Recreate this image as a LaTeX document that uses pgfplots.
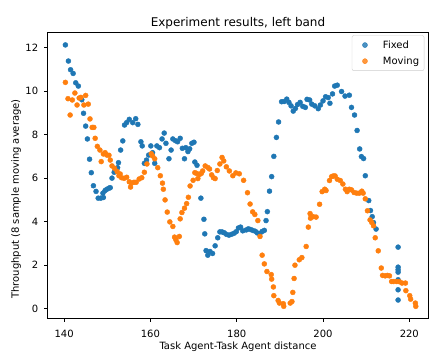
\documentclass[border=0pt]{standalone}
\usepackage{fontspec}
\setmainfont{DejaVu Sans}
\usepackage{pgfplots}
\pgfplotsset{compat=1.18}
\definecolor{cA}{HTML}{1F77B4}
\definecolor{cB}{HTML}{FF7F0E}
\begin{document}
\begin{tikzpicture}
\begin{axis}[
  at={(0,0)}, anchor=south west,
  scale only axis, width=380.6pt, height=286pt,
  xmin=136.2, xmax=224.4, ymin=-0.44, ymax=12.7,
  xtick={140,160,180,200,220}, ytick={0,2,4,6,8,10,12},
  tick pos=left, tick align=outside, major tick length=3.5pt,
  every tick/.style={black, line width=0.8pt},
  axis line style={black, line width=0.8pt},
  /pgf/number format/assume math mode=true,
  ticklabel style={font=\fontsize{10}{12}\selectfont},
  xticklabel style={yshift=-4.5pt},
  yticklabel style={xshift=-2.5pt},
  title={Experiment results, left band},
  title style={at={(0.5,1)}, anchor=base, font=\fontsize{12}{14}\selectfont},
  xlabel={Task Agent-Task Agent distance},
  xlabel style={at={(axis description cs:0.5,0)}, anchor=base, yshift=-31.5pt, font=\fontsize{10}{12}\selectfont},
  ylabel={Throughput (8 sample moving average)},
  ylabel style={at={(axis description cs:-0.0833,0.417)}, anchor=center, font=\fontsize{10}{12}\selectfont},
  legend style={at={(rel axis cs:1,1)}, anchor=north east, xshift=-4pt, yshift=-3pt,
    draw=black!20, rounded corners=2pt, fill=white, fill opacity=0.8, text opacity=1,
    font=\fontsize{10}{12}\selectfont, row sep=3pt, inner xsep=3pt, inner ysep=3pt},
  legend cell align=left,
  legend image code/.code={\path[draw=none, fill=none] (0pt,0pt) -- (26pt,0pt); \draw[#1] plot coordinates {(10pt,0pt)};},
]
\addplot[only marks, mark=*, mark size=2.5pt, color=cA, mark options={draw=cA, fill=cA}] coordinates {
(140.3,12.12) (141.0,11.38) (141.5,10.98) (142.1,10.81) (142.7,10.38) (143.3,10.23)
(144.1,9.60) (144.5,8.98) (145.0,8.39) (145.4,7.80) (145.9,6.87) (146.3,6.25)
(146.8,5.65) (147.4,5.39) (147.9,5.08) (148.5,5.08) (149.0,5.31) (149.1,5.11)
(149.5,5.43) (149.9,5.49) (150.4,5.54) (150.7,5.56) (151.1,6.00) (151.6,6.27)
(152.0,6.39) (152.4,6.48) (152.6,6.71) (153.1,7.29) (153.6,7.71) (154.0,8.44)
(154.5,8.55) (155.1,8.70) (155.9,8.55) (156.6,8.73) (157.1,8.47) (157.8,7.67)
(158.1,7.48) (158.6,6.68) (159.1,6.83) (159.6,7.06) (160.1,7.48) (160.5,7.17)
(161.0,6.68) (161.5,7.48) (162.1,7.40) (162.7,7.80) (163.2,8.07) (163.6,7.60)
(164.3,6.89) (164.8,7.29) (165.2,7.80) (165.8,7.72) (166.3,7.67) (166.9,7.83)
(167.4,7.37) (167.9,6.89) (168.2,7.40) (168.7,7.22) (169.1,7.35) (169.6,7.60)
(170.1,7.65) (170.3,6.74) (170.8,6.59) (171.7,5.08) (172.4,4.11) (172.6,3.44)
(172.9,2.67) (173.3,2.46) (173.8,2.63) (174.4,2.54) (175.0,2.89) (175.6,3.26)
(176.1,3.53) (176.6,3.53) (177.1,3.49) (177.6,3.42) (178.2,3.38) (178.8,3.42)
(179.4,3.47) (179.9,3.54) (180.4,3.71) (180.9,3.75) (181.4,3.58) (182.2,3.62)
(182.7,3.67) (183.2,3.64) (183.7,3.60) (184.3,3.56) (184.8,3.48) (185.4,3.46)
(185.9,3.55) (186.4,3.60) (186.8,4.05) (187.1,4.46) (187.6,5.40) (188.1,6.07)
(188.6,7.00) (189.2,7.87) (189.7,8.58) (190.4,9.51) (191.0,9.52) (191.6,9.63)
(192.1,9.48) (192.6,9.32) (193.1,9.08) (193.6,9.20) (194.1,9.38) (194.7,9.48)
(195.3,9.30) (195.9,9.25) (196.3,9.62) (196.9,9.59) (197.4,9.40) (198.1,9.32)
(198.9,9.19) (199.4,9.36) (200.0,9.55) (200.6,9.74) (201.2,9.70) (201.6,9.44)
(202.2,9.87) (202.7,10.23) (203.3,10.27) (204.3,9.98) (205.1,9.77) (206.1,9.81)
(206.6,9.25) (207.3,8.90) (207.9,8.19) (208.5,7.34) (208.9,6.99) (209.4,6.90)
(209.8,6.11) (210.6,4.97) (211.0,4.51) (211.4,4.23) (211.7,3.96) (212.3,3.66)
(217.4,2.83) (217.4,1.91) (217.4,1.79) (217.4,1.68) (217.4,1.33) (217.4,0.87)
(217.4,0.40)
};
\addlegendentry{Fixed}
\addplot[only marks, mark=*, mark size=2.5pt, color=cB, mark options={draw=cB, fill=cB}] coordinates {
(140.3,10.40) (140.9,9.65) (141.4,8.90) (141.9,9.59) (142.5,9.91) (143.0,9.36)
(143.5,9.68) (143.9,9.71) (144.6,9.36) (145.0,9.80) (145.6,9.40) (146.0,8.72)
(146.5,8.33) (146.9,8.33) (147.2,7.83) (147.7,7.46) (148.3,7.29) (148.6,6.76)
(149.1,7.11) (149.5,7.17) (149.9,7.06) (150.4,7.05) (150.7,6.83) (151.1,6.56)
(151.7,6.45) (152.3,6.30) (152.7,6.11) (153.0,6.19) (153.3,6.02) (153.9,5.99)
(154.5,6.04) (155.1,5.83) (155.4,5.59) (155.6,5.77) (156.2,5.81) (156.7,5.81)
(157.4,5.96) (158.0,6.02) (158.6,6.27) (159.2,6.65) (160.2,7.12) (160.5,7.02)
(161.0,6.89) (161.7,6.48) (162.3,6.11) (162.8,5.77) (163.0,5.49) (163.4,5.00)
(163.9,4.44) (164.5,3.99) (165.2,3.78) (165.6,3.29) (165.9,3.17) (166.2,3.04)
(166.7,3.32) (166.9,4.13) (167.3,4.42) (167.9,4.62) (168.4,4.83) (168.8,5.12)
(169.2,5.64) (169.9,5.90) (170.3,6.25) (170.7,6.22) (171.0,5.98) (171.4,6.17)
(171.8,6.22) (172.1,6.33) (172.7,6.56) (173.3,6.49) (173.7,6.42) (174.2,6.15)
(174.6,6.02) (175.0,5.98) (175.5,6.35) (176.1,6.65) (176.6,6.95) (177.0,6.79)
(177.6,6.52) (178.3,6.33) (179.1,6.11) (179.8,6.24) (180.6,6.20) (181.6,5.90)
(182.5,5.33) (183.1,4.81) (183.7,4.45) (184.2,4.33) (184.9,4.05) (185.4,3.32)
(185.9,2.46) (186.4,2.06) (187.0,1.71) (188.0,1.57) (188.1,1.36) (188.5,1.00)
(188.6,0.60) (189.6,0.38) (189.9,0.26) (190.8,0.23) (190.9,0.11) (192.4,0.26)
(192.8,0.33) (193.0,0.75) (193.3,1.39) (193.5,2.00) (194.5,2.25) (195.1,2.35)
(196.1,2.86) (196.6,3.75) (197.0,4.37) (197.1,4.16) (197.7,4.23) (198.4,4.21)
(199.2,4.80) (199.8,5.38) (200.4,5.49) (200.7,5.43) (201.5,5.89) (202.0,6.07)
(202.4,6.10) (202.8,6.10) (203.3,5.95) (204.0,5.89) (204.6,5.73) (205.2,5.49)
(205.6,5.38) (206.1,5.49) (206.6,5.46) (207.2,5.34) (207.8,5.31) (208.4,5.31)
(209.0,5.40) (209.3,5.31) (209.8,5.05) (210.3,4.50) (210.9,4.08) (211.3,3.96)
(211.7,3.81) (212.1,3.26) (212.8,2.66) (213.5,1.87) (213.8,1.53) (214.4,1.51)
(214.9,1.53) (215.4,1.51) (215.9,1.25) (216.4,1.25) (217.1,1.25) (217.7,1.24)
(218.3,1.18) (219.1,1.18) (219.2,0.83) (220.1,0.60) (220.3,0.44) (221.4,0.26)
(221.5,0.11)
};
\addlegendentry{Moving}
\end{axis}
\pgfresetboundingbox
\path[use as bounding box] (-47.7pt,-32.7pt) rectangle (382.3pt,318.3pt);
\end{tikzpicture}
\end{document}
